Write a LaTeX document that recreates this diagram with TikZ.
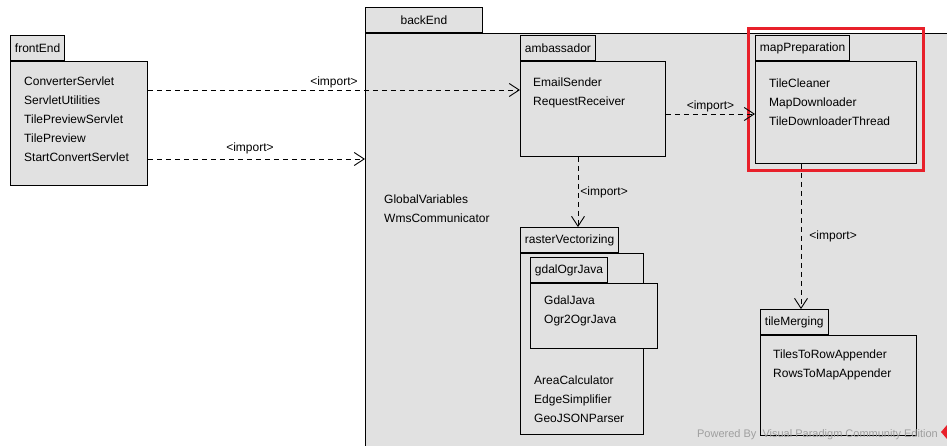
\documentclass[tikz,border=0pt]{standalone}
\usepackage{fontspec}
\setmainfont{Liberation Sans}
\usepackage{tikz}
\usetikzlibrary{arrows.meta, positioning, fit}
\definecolor{pkgfill}{HTML}{E1E1E1}
\definecolor{markred}{HTML}{E8202A}

\begin{document}
\begin{tikzpicture}[x=1pt, y=-1pt,
    pkg/.style={draw, line width=0.9pt, fill=pkgfill, anchor=north west,
                inner sep=0pt},
    tab/.style={draw, line width=0.9pt, fill=pkgfill, anchor=south west,
                minimum height=25pt, inner xsep=4.5pt,
                font=\fontsize{12}{14}\selectfont},
    classes/.style={align=left, inner sep=0pt,
                    font=\fontsize{12}{19}\selectfont},
    imp/.style={line width=0.9pt, dash pattern=on 5pt off 4pt,
                -{Straight Barb[length=10pt, width=13pt, line width=0.9pt]}},
    lbl/.style={font=\fontsize{12}{14}\selectfont, inner sep=2pt}
  ]
    \useasboundingbox (0,0) rectangle (947,446);
    \clip (0,0) rectangle (947,446);
    \fill[white] (0,0) rectangle (947,446);

    % frontEnd package
    \node[pkg, minimum width=137pt, minimum height=124pt] (frontEnd) at (10,61) {};
    \node[tab] (frontEndTab) at (frontEnd.north west) {frontEnd};
    \node[classes, below right=16pt and 14pt of frontEnd.north west] (frontEndCls)
      {ConverterServlet\\ServletUtilities\\TilePreviewServlet\\TilePreview\\StartConvertServlet};

    % backEnd package, runs off the page
    \node[pkg, minimum width=620pt, minimum height=440pt] (backEnd) at (365,33) {};
    \node[tab, minimum width=117pt] (backEndTab) at (backEnd.north west) {backEnd};
    \node[classes, below right=162pt and 19pt of backEnd.north west] (backEndCls)
      {GlobalVariables\\WmsCommunicator};

    % ambassador
    \node[pkg, minimum width=145pt, minimum height=95pt] (ambassador) at (520,61) {};
    \node[tab] (ambassadorTab) at (ambassador.north west) {ambassador};
    \node[classes, below right=17pt and 13pt of ambassador.north west] (ambassadorCls)
      {EmailSender\\RequestReceiver};

    % mapPreparation
    \node[pkg, minimum width=161pt, minimum height=102pt] (mapPrep) at (755,61) {};
    \node[tab] (mapPrepTab) at (mapPrep.north west) {mapPreparation};
    \node[classes, below right=18pt and 14pt of mapPrep.north west] (mapPrepCls)
      {TileCleaner\\MapDownloader\\TileDownloaderThread};
    \node[draw=markred, line width=2.5pt, inner sep=6.5pt,
          fit=(mapPrepTab)(mapPrep)] (mapPrepMark) {};

    % rasterVectorizing with gdalOgrJava inside
    \node[pkg, minimum width=123pt, minimum height=181pt] (raster) at (520,253) {};
    \node[tab] (rasterTab) at (raster.north west) {rasterVectorizing};
    \node[pkg, minimum width=127pt, minimum height=65pt] (gdal) at (530,283) {};
    \node[tab] (gdalTab) at (gdal.north west) {gdalOgrJava};
    \node[classes, below right=13pt and 14pt of gdal.north west] (gdalCls)
      {GdalJava\\Ogr2OgrJava};
    \node[classes, below right=123pt and 14pt of raster.north west] (rasterCls)
      {AreaCalculator\\EdgeSimplifier\\GeoJSONParser};

    % tileMerging
    \node[pkg, minimum width=156pt, minimum height=100pt] (tileMerge) at (760,335) {};
    \node[tab] (tileMergeTab) at (tileMerge.north west) {tileMerging};
    \node[classes, below right=15pt and 13pt of tileMerge.north west] (tileMergeCls)
      {TilesToRowAppender\\RowsToMapAppender};

    % import dependencies
    \draw[imp] ([yshift=-29pt]frontEnd.north east)
      -- node[lbl, above] {<import>} ([yshift=-29pt]ambassador.north west);
    \draw[imp] ([yshift=-98pt]frontEnd.north east)
      -- node[lbl, above, pos=0.47, yshift=3pt] {<import>} ([yshift=-98pt]frontEnd.north east -| backEnd.west);
    \draw[imp] ([yshift=-53pt]ambassador.north east)
      -- node[lbl, above] {<import>} ([yshift=-53pt]mapPrep.north west);
    \draw[imp] ([xshift=58pt]ambassador.south west)
      -- node[lbl, right] {<import>} ([xshift=58pt]rasterTab.north west);
    \draw[imp] ([xshift=46pt]mapPrep.south west)
      -- node[lbl, right, xshift=6pt] {<import>} ([xshift=41pt]tileMergeTab.north west);

    % tool watermark
    \node[anchor=base east, text=gray!75, inner sep=0pt,
          font=\fontsize{11}{13}\selectfont] (vpMark) at (938,437)
      {Powered By\ \ Visual Paradigm Community Edition};
    \fill[markred] (941,432) -- (947,425) -- (953,432) -- (947,439) -- cycle;
\end{tikzpicture}
\end{document}
